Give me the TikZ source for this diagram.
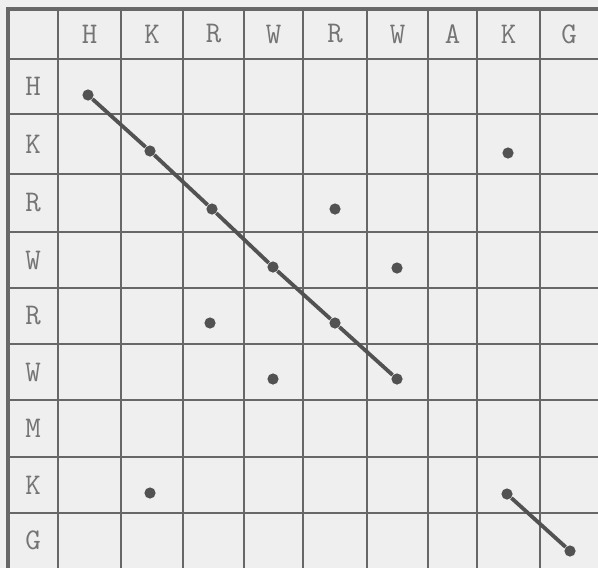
\documentclass[tikz,border=0pt]{standalone}
\usepackage{fontspec}
\usepackage{tikz}

\definecolor{bggray}{HTML}{EFEFEF}
\definecolor{gridgray}{HTML}{676767}
\definecolor{labelgray}{HTML}{747474}
\definecolor{dotgray}{HTML}{525252}

\begin{document}
\begin{tikzpicture}[
    x=0.5pt, y=-0.5pt,
    gridline/.style={draw=gridgray, line width=1.45pt},
    celllabel/.style={font=\fontsize{15}{17}\selectfont\ttfamily, text=labelgray, inner sep=0pt},
    matchdot/.style={circle, fill=dotgray, inner sep=0pt, minimum size=5.6pt},
    link/.style={draw=dotgray, line width=1.9pt}
  ]

  \fill[bggray] (0,0) rectangle (598,568);
  \useasboundingbox (0,0) rectangle (598,568);

  % grid
  \foreach \gx in {58,121,183,244,303,367,428,477,540}
    \draw[gridline] (\gx,9) -- (\gx,568);
  \foreach \gy in {59,114,174,232,288,344,400,457,513}
    \draw[gridline] (8,\gy) -- (598,\gy);
  \draw[gridline, line width=1.8pt] (598,9) -- (8,9) -- (8,568);

  % sequence labels
  \foreach \cx/\lbl [count=\i] in {89.5/H,152/K,213.5/R,273.5/W,335/R,397.5/W,452.5/A,508.5/K,569/G}
    \node[celllabel] (col\i) at (\cx,34) {\lbl};
  \foreach \ry/\lbl [count=\i] in {86.5/H,144/K,203/R,260/W,316/R,372/W,428.5/M,485/K,540.5/G}
    \node[celllabel] (row\i) at (33,\ry) {\lbl};

  % matches
  \node[matchdot] (d11) at (88,95) {};
  \node[matchdot] (d22) at (150,151) {};
  \node[matchdot] (d33) at (212,209) {};
  \node[matchdot] (d44) at (273,267) {};
  \node[matchdot] (d55) at (335,323) {};
  \node[matchdot] (d66) at (397,379) {};
  \node[matchdot] (d28) at (508,153) {};
  \node[matchdot] (d35) at (335,209) {};
  \node[matchdot] (d46) at (397,268) {};
  \node[matchdot] (d53) at (210,323) {};
  \node[matchdot] (d64) at (273,379) {};
  \node[matchdot] (d82) at (150,493) {};
  \node[matchdot] (d88) at (507,494) {};
  \node[matchdot] (d99) at (570,551) {};

  \draw[link] (d11) -- (d22) -- (d33) -- (d44) -- (d55) -- (d66);
  \draw[link] (d88) -- (d99);

\end{tikzpicture}
\end{document}
